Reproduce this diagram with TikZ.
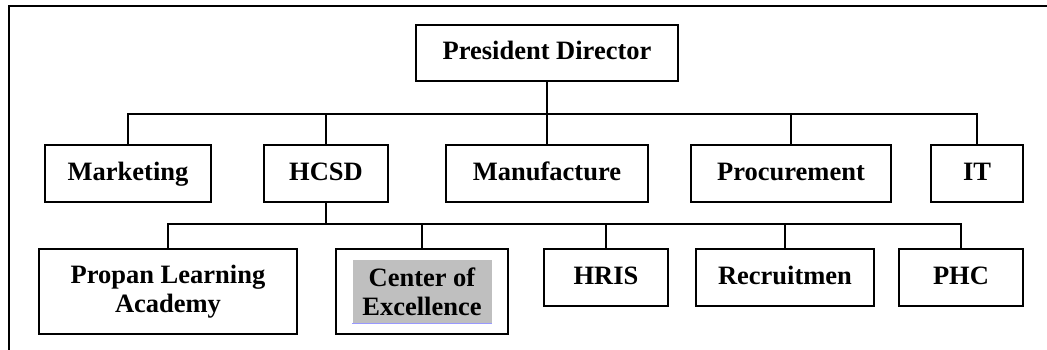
\documentclass[tikz,border=0pt]{standalone}
\usepackage{fontspec}
\setmainfont{Liberation Serif}
\usetikzlibrary{positioning}
\tikzset{
  unit/.style={draw,line width=1.5pt,align=center,inner sep=0pt,
    font=\fontsize{26.5}{29}\selectfont\bfseries},
  one/.style={text height=19pt,text depth=5pt},
  link/.style={line width=1.5pt},
}

\begin{document}
\begin{tikzpicture}[x=1pt,y=-1pt]
    \useasboundingbox (0,0) rectangle (1047,350);
    % page frame
    \draw[line width=1.5pt] (9,350) -- (9,6) -- (1047,6);
    \node[unit,one,minimum width=262,minimum height=56] at (547,53) (pd) {President Director};
    \node[unit,one,minimum width=166,minimum height=57] at (128,173.5) (mkt) {Marketing};
    \node[unit,one,minimum width=124,minimum height=57] at (326,173.5) (hcsd) {HCSD};
    \node[unit,one,minimum width=202,minimum height=57] at (547,173.5) (manu) {Manufacture};
    \node[unit,one,minimum width=200,minimum height=57] at (791,173.5) (proc) {Procurement};
    \node[unit,one,minimum width=92,minimum height=57] at (977,173.5) (it) {IT};
    \node[unit,minimum width=258,minimum height=85] at (168,291.5) (pla) {Propan Learning\\Academy};
    \node[unit,minimum width=172,minimum height=85] at (422,291.5) (coe) {};
    \node[unit,draw=none,fill=black!25,minimum width=139,minimum height=63] at (422,291.5) (coetxt) {Center of\\Excellence};
    \node[unit,one,minimum width=124,minimum height=57] at (606,277.5) (hris) {HRIS};
    \node[unit,one,minimum width=178,minimum height=57] at (785,277.5) (rec) {Recruitmen};
    \node[unit,one,minimum width=124,minimum height=57] at (961,277.5) (phc) {PHC};
    \draw[blue!40,line width=1pt] (coetxt.south west) -- (coetxt.south east);
    % first level
    \coordinate (bus1) at (547,114);
    \draw[link] (pd) -- (bus1);
    \foreach \n in {mkt,hcsd,manu,proc,it}
        \draw[link] (\n.north) |- (bus1);
    % second level
    \coordinate (bus2) at (326,224);
    \draw[link] (hcsd) -- (bus2);
    \foreach \n in {pla,coe,hris,rec,phc}
        \draw[link] (\n.north) |- (bus2);
\end{tikzpicture}
\end{document}
